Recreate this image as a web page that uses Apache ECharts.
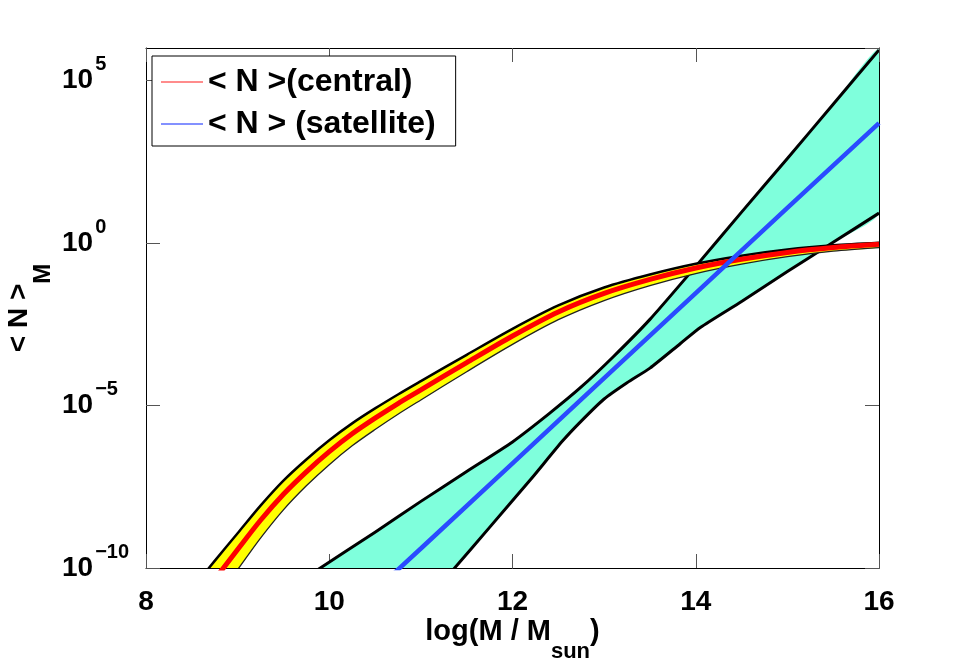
<!DOCTYPE html>
<html lang="en">
<head>
    <meta charset="UTF-8">
    <title>HOD</title>
    <script src="https://cdn.jsdelivr.net/npm/echarts@6/dist/echarts.min.js"></script>
    <style>
        html, body { margin: 0; padding: 0; background: #fff; }
        #chart { width: 971px; height: 663px; }
    </style>
</head>
<body>
<div id="chart"></div>
<script>
    // all y values are log10 <N>
    var cenX   = [8.5, 8.75, 9.0, 9.25, 9.5, 9.75, 10, 10.25, 10.5, 10.75, 11, 11.5, 12, 12.5, 13, 13.5, 14, 14.5, 15, 15.5, 16];
    var cenMid = [-11.3, -10.35, -9.43, -8.53, -7.73, -7.04, -6.42, -5.87, -5.39, -4.94, -4.52, -3.68, -2.86, -2.12, -1.55, -1.12, -0.77, -0.5, -0.29, -0.14, -0.04];
    var cenUp  = [-10.65, -9.78, -8.93, -8.08, -7.31, -6.66, -6.07, -5.55, -5.09, -4.66, -4.25, -3.44, -2.64, -1.92, -1.37, -0.97, -0.64, -0.39, -0.2, -0.07, 0.01];
    var cenLow = [-12.0, -11.01, -10.05, -9.08, -8.21, -7.47, -6.82, -6.24, -5.74, -5.27, -4.83, -3.96, -3.12, -2.36, -1.77, -1.31, -0.94, -0.65, -0.42, -0.25, -0.14];

    var satX   = [10.5, 11, 12, 13, 14, 15, 16];
    var satMid = [-10.7, -9.4, -6.78, -4.16, -1.54, 1.08, 3.69];
    var satUpX = [9.6, 9.87, 10.5, 11, 11.5, 12, 12.4, 12.75, 13.1, 13.5, 14, 14.5, 15, 15.5, 16];
    var satUp  = [-10.57, -10.06, -8.9, -7.95, -7.03, -6.12, -5.25, -4.43, -3.5, -2.35, -0.72, 0.95, 2.6, 4.27, 5.94];
    var satLowX = [11.0, 11.35, 11.75, 12.2, 12.55, 12.75, 13.0, 13.25, 13.5, 13.83, 14.05, 14.5, 15, 15.5, 16];
    var satLow  = [-11.2, -10.06, -8.75, -7.27, -6.08, -5.48, -4.8, -4.3, -3.85, -3.1, -2.6, -1.8, -0.88, 0.02, 0.92];

    var xTicks = [8, 10, 12, 14, 16];
    var yTickExp = [-10, -5, 0, 5];

    var nameCen = '< N >(central)';
    var nameSat = '< N > (satellite)';
    var FONT = '"Liberation Sans", Arial, Helvetica, sans-serif';

    function pairs(xs, ys) {
        var out = [];
        for (var i = 0; i < xs.length; i++) out.push([xs[i], ys[i]]);
        return out;
    }

    // filled band between two edges, drawn with the grid's own coords
    function band(upX, upY, lowX, lowY, fill, upW, lowW, lowColor, sm) {
        return function (params, api) {
            if (params.dataIndex !== 0) return;
            var top = [], bot = [];
            for (var i = 0; i < upX.length; i++) top.push(api.coord([upX[i], upY[i]]));
            for (var j = 0; j < lowX.length; j++) bot.push(api.coord([lowX[j], lowY[j]]));
            var poly = top.concat(bot.slice().reverse());
            return {
                type: 'group',
                children: [
                    {type: 'polygon', shape: {points: poly, smooth: sm}, style: {fill: fill, stroke: null}},
                    {type: 'polyline', shape: {points: top, smooth: sm}, style: {stroke: '#000', lineWidth: upW, fill: null}},
                    {type: 'polyline', shape: {points: bot, smooth: sm}, style: {stroke: lowColor, lineWidth: lowW, fill: null}}
                ]
            };
        };
    }

    var tickStyle = {show: true, inside: true, length: 14, lineStyle: {color: '#555', width: 1}};
    var lineStyleAxis = {show: true, onZero: false, lineStyle: {color: '#000', width: 1}};

    var option = {
        animation: false,
        backgroundColor: '#fff',
        grid: {left: 146, right: 92, top: 48, bottom: 95, containLabel: false, outerBoundsMode: 'none'},
        legend: {
            left: 152,
            top: 56,
            orient: 'vertical',
            selectedMode: false,
            icon: 'rect',
            data: [
                {name: nameCen, itemStyle: {color: '#ff8c8c'}},
                {name: nameSat, itemStyle: {color: '#8391ff'}}
            ],
            itemWidth: 42,
            itemHeight: 2,
            itemGap: 6,
            padding: [8, 20, 4, 9],
            borderColor: '#000',
            borderWidth: 1,
            borderRadius: 0,
            backgroundColor: '#fff',
            textStyle: {fontFamily: FONT, fontWeight: 'bold', fontSize: 32, lineHeight: 36, color: '#000'}
        },
        xAxis: [{
            type: 'value', min: 8, max: 16, interval: 2, position: 'bottom',
            axisLine: lineStyleAxis, axisTick: tickStyle, splitLine: {show: false},
            axisLabel: {
                margin: 20,
                fontFamily: FONT, fontWeight: 'bold', fontSize: 28, color: '#000',
                formatter: function (v) { return xTicks.indexOf(v) >= 0 ? String(v) : ''; }
            },
            name: '{b|log(M / M}{s|sun}{b|)}',
            nameLocation: 'middle',
            nameGap: 49,
            nameMoveOverlap: false,
            nameTextStyle: {
                verticalAlign: 'top',
                rich: {
                    b: {fontFamily: FONT, fontWeight: 'bold', fontSize: 29, lineHeight: 30, verticalAlign: 'top', color: '#000'},
                    s: {fontFamily: FONT, fontWeight: 'bold', fontSize: 22, lineHeight: 46, verticalAlign: 'bottom', color: '#000'}
                }
            }
        }, {
            type: 'value', min: 8, max: 16, interval: 2, position: 'top',
            axisLine: lineStyleAxis, axisTick: tickStyle, splitLine: {show: false},
            axisLabel: {show: false}
        }],
        yAxis: [{
            type: 'value', min: -10, max: 6, interval: 5, position: 'left',
            axisLine: lineStyleAxis, axisTick: tickStyle, splitLine: {show: false},
            axisLabel: {
                margin: 84,
                align: 'left',
                verticalAlign: 'middle',
                showMaxLabel: false,
                formatter: function (v) {
                    if (yTickExp.indexOf(v) < 0) return '';
                    return '{b|10}{s|' + String(v).replace('-', '\u2212') + '}';
                },
                rich: {
                    b: {fontFamily: FONT, fontWeight: 'bold', fontSize: 28, lineHeight: 52, verticalAlign: 'middle', color: '#000'},
                    s: {fontFamily: FONT, fontWeight: 'bold', fontSize: 20, lineHeight: 20, verticalAlign: 'top', color: '#000', padding: [0, 0, 0, 2]}
                }
            },
            name: '{b|< N >}{s|M}',
            nameLocation: 'middle',
            nameGap: 91,
            nameMoveOverlap: false,
            nameTextStyle: {
                rich: {
                    b: {fontFamily: FONT, fontWeight: 'bold', fontSize: 28, lineHeight: 30, verticalAlign: 'top', color: '#000'},
                    s: {fontFamily: FONT, fontWeight: 'bold', fontSize: 24, lineHeight: 50, verticalAlign: 'bottom', color: '#000'}
                }
            }
        }, {
            type: 'value', min: -10, max: 6, interval: 5, position: 'right',
            axisLine: lineStyleAxis, axisTick: tickStyle, splitLine: {show: false},
            axisLabel: {show: false}
        }],
        series: [{
            type: 'custom',
            name: 'satBand',
            clip: true,
            silent: true,
            z: 1,
            data: [[8, -10]],
            renderItem: band(satUpX, satUp, satLowX, satLow, '#7fffdc', 3, 3, '#000', 0.2)
        }, {
            type: 'custom',
            name: 'cenBand',
            clip: true,
            silent: true,
            z: 2,
            data: [[8, -10]],
            renderItem: band(cenX, cenUp, cenX, cenLow, '#ffff00', 2.5, 1.3, '#222', 0.3)
        }, {
            type: 'line',
            name: nameCen,
            data: pairs(cenX, cenMid),
            symbol: 'none',
            smooth: 0.3,
            clip: true,
            z: 3,
            lineStyle: {color: '#ff0000', width: 5},
            itemStyle: {color: '#ff0000'}
        }, {
            type: 'line',
            name: nameSat,
            data: pairs(satX, satMid),
            symbol: 'none',
            clip: true,
            z: 4,
            lineStyle: {color: '#2a4bff', width: 4.5},
            itemStyle: {color: '#2a4bff'}
        }]
    };

    var chart = echarts.init(document.getElementById('chart'), null, {renderer: 'canvas'});
    chart.setOption(option);
</script>
</body>
</html>
